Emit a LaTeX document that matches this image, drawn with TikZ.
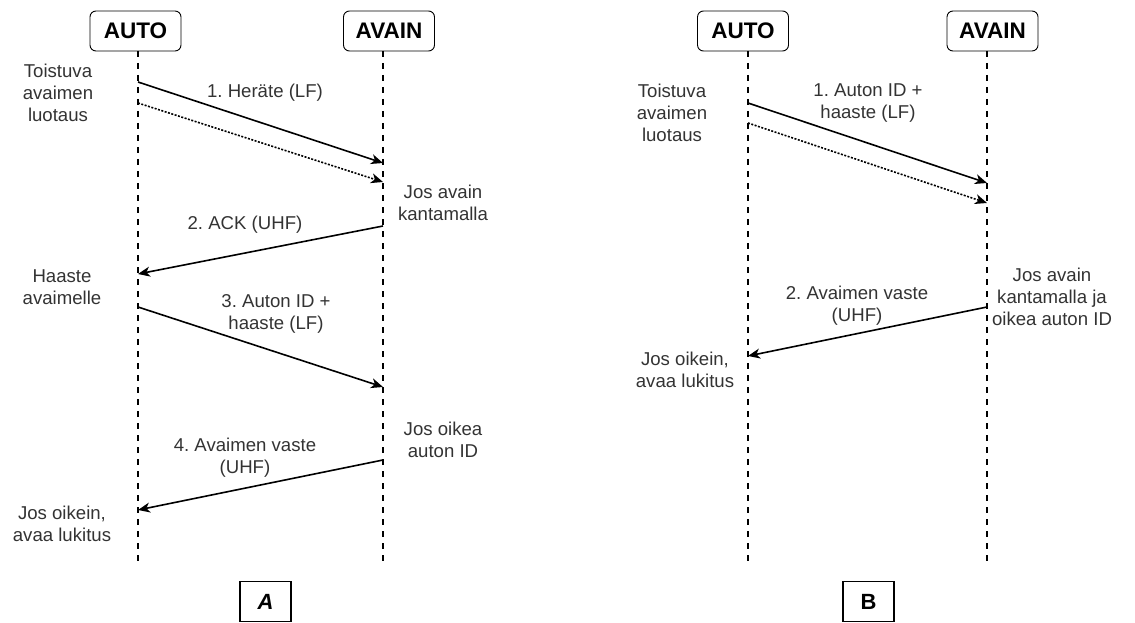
\documentclass[tikz,border=0pt]{standalone}
\usepackage{fontspec}
\setmainfont{Liberation Sans}
\usetikzlibrary{arrows.meta}
\definecolor{txt}{HTML}{333333}
\frenchspacing
\tikzset{
  actor/.style={draw=black, line width=0.9pt, rounded corners=6pt, minimum width=91pt,
    minimum height=40pt, inner sep=0pt, font=\fontsize{22.5}{27}\selectfont\bfseries},
  lifeline/.style={line width=1.5pt, dash pattern=on 6pt off 6pt},
  msg/.style={line width=1.6pt, -{Stealth[length=12pt, width=10pt, inset=3.5pt]}},
  poll/.style={msg, dash pattern=on 2pt off 1.5pt},
  note/.style={align=center, text=txt, inner sep=0pt, font=\fontsize{18.6}{21.8}\selectfont},
  tag/.style={draw=black, line width=1.4pt, minimum width=51pt, minimum height=40pt,
    inner sep=0pt, font=\fontsize{22}{24}\selectfont\bfseries}
}
\begin{document}
\begin{tikzpicture}[x=1pt, y=-1pt]
\useasboundingbox (0,0) rectangle (1135,623);

% ---------- Scenario A ----------
\node[actor] (autoA) at (135.5,31) {AUTO};
\node[actor] (avainA) at (389,31) {AVAIN};
\coordinate (autoAtop) at (138,51);
\coordinate (autoAend) at (138,562);
\coordinate (avainAtop) at (383,51);
\coordinate (avainAend) at (383,562);
\draw[lifeline] (autoAtop) -- (autoAend);
\draw[lifeline] (avainAtop) -- (avainAend);

\coordinate (a1s) at (138,82);  \coordinate (a1e) at (383,163);
\coordinate (a1ds) at (138,103); \coordinate (a1de) at (383,182);
\coordinate (a2s) at (383,226); \coordinate (a2e) at (138,274);
\coordinate (a3s) at (138,307); \coordinate (a3e) at (383,387);
\coordinate (a4s) at (383,460); \coordinate (a4e) at (138,510);
\draw[msg] (a1s) -- (a1e);
\draw[poll] (a1ds) -- (a1de);
\draw[msg] (a2s) -- (a2e);
\draw[msg] (a3s) -- (a3e);
\draw[msg] (a4s) -- (a4e);

\node[note] (pollA) at (58,93) {Toistuva\\avaimen\\luotaus};
\node[note] (m1A) at (265,93) {1. Heräte (LF)};
\node[note] (nearA) at (443,203) {Jos avain\\kantamalla};
\node[note] (m2A) at (245,225) {2. ACK (UHF)};
\node[note] (chalA) at (62,287) {Haaste\\avaimelle};
\node[note] (m3A) at (276,314) {3. Auton ID +\\haaste (LF)};
\node[note] (idA) at (443,440) {Jos oikea\\auton ID};
\node[note] (m4A) at (245,458) {4. Avaimen vaste\\(UHF)};
\node[note] (openA) at (62,524) {Jos oikein,\\avaa lukitus};

\node[tag] (tagA) at (265.5,601.5) {\itshape A};

% ---------- Scenario B ----------
\node[actor] (autoB) at (743,31) {AUTO};
\node[actor] (avainB) at (992.5,31) {AVAIN};
\coordinate (autoBtop) at (748,51);
\coordinate (autoBend) at (748,562);
\coordinate (avainBtop) at (987,51);
\coordinate (avainBend) at (987,562);
\draw[lifeline] (autoBtop) -- (autoBend);
\draw[lifeline] (avainBtop) -- (avainBend);

\coordinate (b1s) at (748,103); \coordinate (b1e) at (987,183);
\coordinate (b1ds) at (748,123); \coordinate (b1de) at (987,203);
\coordinate (b2s) at (987,307); \coordinate (b2e) at (748,356);
\draw[msg] (b1s) -- (b1e);
\draw[poll] (b1ds) -- (b1de);
\draw[msg] (b2s) -- (b2e);

\node[note] (pollB) at (672,113) {Toistuva\\avaimen\\luotaus};
\node[note] (m1B) at (868,103) {1. Auton ID +\\haaste (LF)};
\node[note] (nearB) at (1052,297) {Jos avain\\kantamalla ja\\oikea auton ID};
\node[note] (m2B) at (857,306) {2. Avaimen vaste\\(UHF)};
\node[note] (openB) at (685,370) {Jos oikein,\\avaa lukitus};

\node[tag] (tagB) at (868.5,601.5) {B};
\end{tikzpicture}
\end{document}
